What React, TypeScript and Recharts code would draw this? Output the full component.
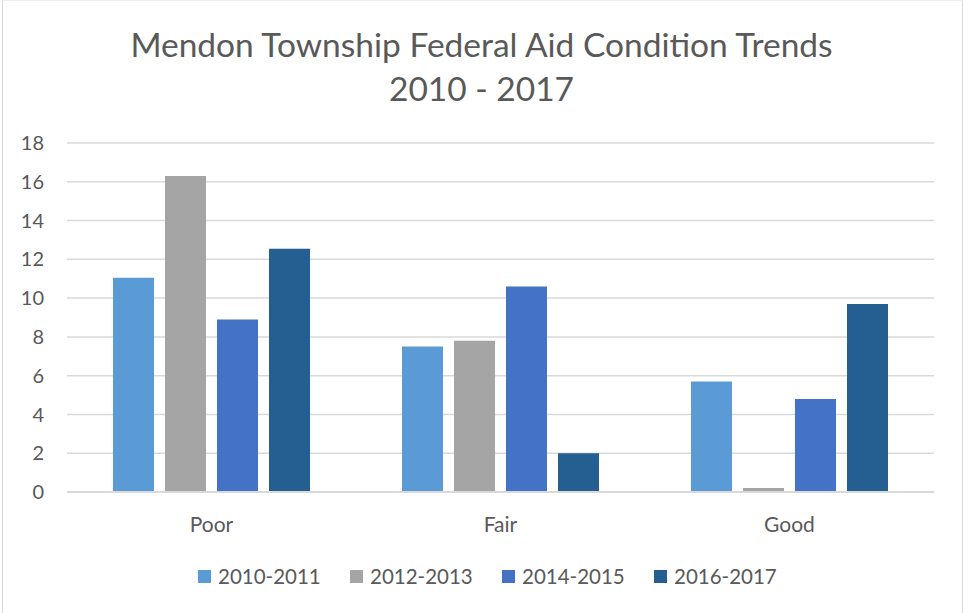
import React from 'react';
import { BarChart, Bar, XAxis, YAxis, CartesianGrid, Legend } from 'recharts';

const categories = ['Poor', 'Fair', 'Good'];
const seriesNames = ['2010-2011', '2012-2013', '2014-2015', '2016-2017'];
const values2010 = [11.05, 7.5, 5.7];
const values2012 = [16.3, 7.8, 0.2];
const values2014 = [8.9, 10.6, 4.8];
const values2016 = [12.55, 2.0, 9.7];
const yTicks = [0, 2, 4, 6, 8, 10, 12, 14, 16, 18];

const COLORS = ['#5B9BD5', '#A5A5A5', '#4472C4', '#255E91'];
const FONT = 'Lato, "Open Sans", sans-serif';
const TEXT_COLOR = '#595959';
const GRID_COLOR = '#D9D9D9';

const data = categories.map((c, i) => ({
  category: c,
  s2010: values2010[i],
  s2012: values2012[i],
  s2014: values2014[i],
  s2016: values2016[i],
}));

const seriesKeys = ['s2010', 's2012', 's2014', 's2016'];

function LegendContent() {
  return (
    <div style={{ height: 71, display: 'flex', paddingLeft: 198, paddingTop: 24, boxSizing: 'border-box' }}>
      {seriesNames.map((name, i) => (
        <div key={name} style={{ display: 'flex', alignItems: 'center', width: 152, height: 20 }}>
          <span style={{ display: 'inline-block', width: 13, height: 13, background: COLORS[i], marginRight: 7 }} />
          <span style={{ fontFamily: FONT, fontSize: 20.5, color: TEXT_COLOR, lineHeight: '20px' }}>{name}</span>
        </div>
      ))}
    </div>
  );
}

export default function App() {
  return (
    <div style={{ position: 'absolute', left: 0, top: 0, width: 963, height: 613, background: '#fff' }}>
      <div
        style={{
          position: 'absolute',
          left: 2,
          top: 0,
          width: 959,
          height: 613,
          borderLeft: `1px solid ${GRID_COLOR}`,
          borderRight: `1px solid ${GRID_COLOR}`,
          borderTop: `1px solid #EEEEEE`,
        }}
      />
      <div
        style={{
          position: 'absolute',
          left: 0,
          top: 22,
          width: 963,
          textAlign: 'center',
          fontFamily: FONT,
          fontSize: 33.5,
          lineHeight: '44px',
          color: TEXT_COLOR,
        }}
      >
        <div>Mendon Township Federal Aid Condition Trends</div>
        <div>2010 - 2017</div>
      </div>
      <BarChart
        width={963}
        height={613}
        data={data}
        margin={{ top: 143, right: 29, left: 0, bottom: 0 }}
        barSize={41}
        barGap={11}
        style={{ position: 'absolute', left: 0, top: 0 }}
      >
        <CartesianGrid vertical={false} stroke={GRID_COLOR} strokeWidth={1.5} />
        <XAxis
          dataKey="category"
          height={50}
          tickLine={false}
          axisLine={{ stroke: GRID_COLOR, strokeWidth: 2 }}
          tickMargin={19}
          tick={{ fontFamily: FONT, fontSize: 21, fill: TEXT_COLOR }}
        />
        <YAxis
          width={67}
          domain={[0, 18]}
          ticks={yTicks}
          interval={0}
          tickLine={false}
          axisLine={false}
          tickMargin={17}
          tick={{ fontFamily: FONT, fontSize: 20, fill: TEXT_COLOR }}
        />
        <Legend
          verticalAlign="bottom"
          content={<LegendContent />}
          wrapperStyle={{ left: 0, width: 963, bottom: 0, height: 71 }}
        />
        {seriesKeys.map((k, i) => (
          <Bar key={k} dataKey={k} name={seriesNames[i]} fill={COLORS[i]} isAnimationActive={false} />
        ))}
      </BarChart>
    </div>
  );
}
